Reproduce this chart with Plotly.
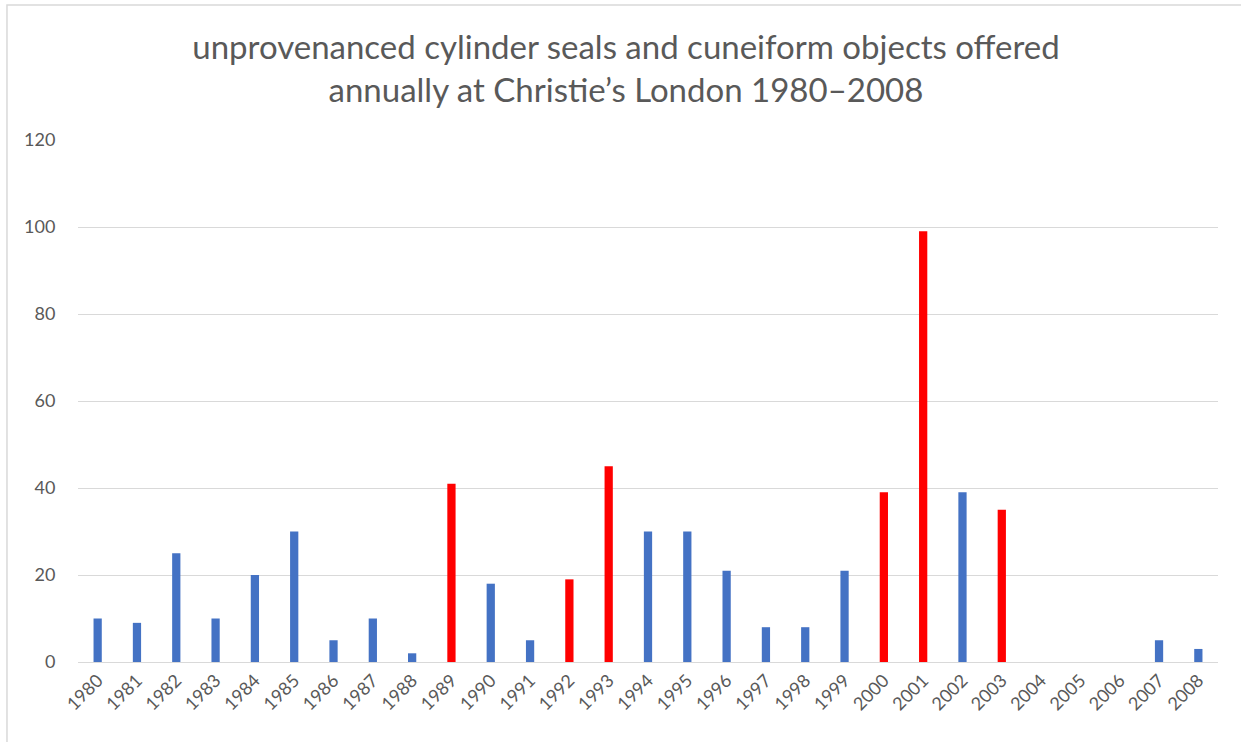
import plotly.graph_objects as go

years = [str(y) for y in range(1980, 2009)]
values = [10, 9, 25, 10, 20, 30, 5, 10, 2, 41, 18, 5, 19, 45, 30, 30, 21, 8, 8, 21,
          39, 99, 39, 35, 0, 0, 0, 5, 3]
highlight_years = ["1989", "1992", "1993", "2000", "2001", "2003"]

BLUE = "#4472C4"
RED = "#FF0000"
colors = [RED if y in highlight_years else BLUE for y in years]

fig = go.Figure(go.Bar(x=years, y=values, marker=dict(color=colors, line=dict(width=0)),
                       width=0.21))

fig.update_layout(
    width=1241, height=742,
    paper_bgcolor="white", plot_bgcolor="white",
    margin=dict(l=78, r=23, t=140, b=80, autoexpand=False),
    title=dict(text="unprovenanced cylinder seals and cuneiform objects offered<br>annually at Christie’s London 1980–2008",
               x=0.5044, xanchor="center", xref="container", y=0.921, yanchor="middle", yref="container",
               font=dict(family="Lato", size=33, color="#595959")),
    font=dict(family="Lato", color="#595959"),
    showlegend=False,
)
fig.update_xaxes(type="category", tickangle=-45, tickfont=dict(size=18, color="#595959"),
                 showgrid=False, showline=True, linecolor="#D9D9D9", linewidth=1, ticks="",
                 automargin=False)
fig.update_yaxes(range=[0, 120], dtick=20, tickfont=dict(size=18, color="#595959"),
                 showgrid=True, gridcolor="#D9D9D9", gridwidth=1, zeroline=False,
                 ticks="outside", ticklen=18, tickcolor="rgba(0,0,0,0)", automargin=False)
fig.add_shape(type="rect", xref="paper", yref="paper", x0=-0.0623, x1=1.2, y0=-0.4, y1=1.2586,
              line=dict(color="#D9D9D9", width=1.5), fillcolor="rgba(0,0,0,0)", layer="below")
fig.write_html("out.html", post_script="document.body.style.margin='0';",
               config={"displayModeBar": False})
